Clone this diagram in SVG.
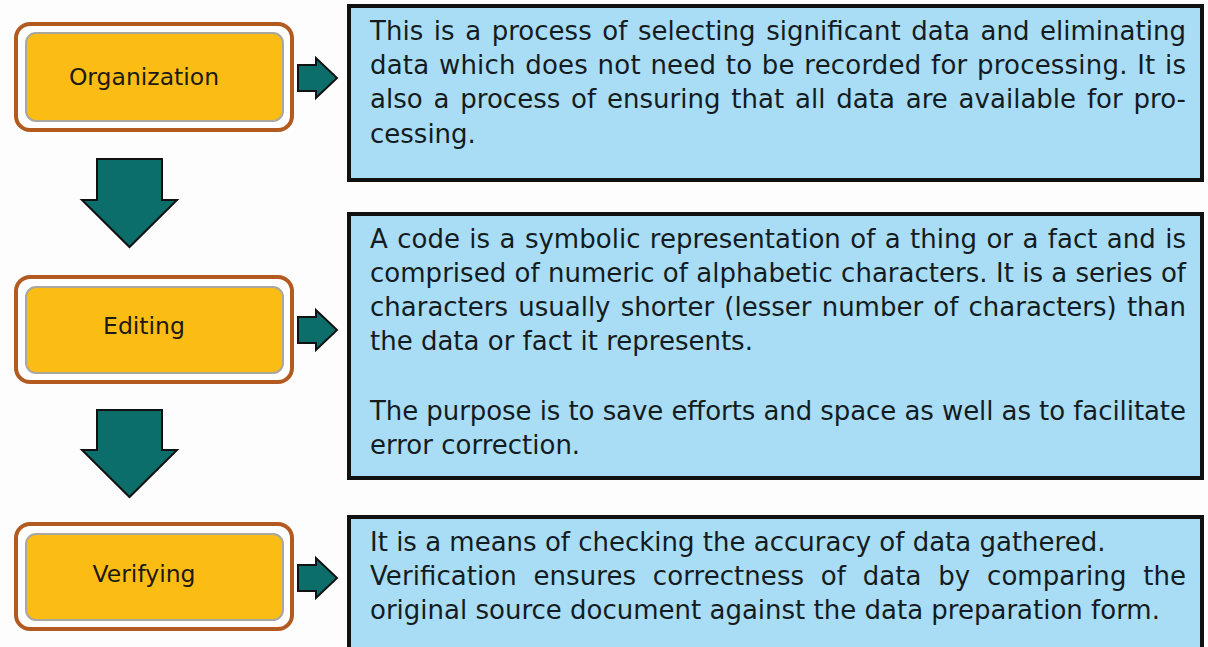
<svg xmlns="http://www.w3.org/2000/svg" width="1208" height="647" viewBox="0 0 1208 647">
  <style>
    .frame { fill: #ffffff; stroke: #b35a20; stroke-width: 4; }
    .pill { fill: #fbbd13; stroke: #a9a79f; stroke-width: 2; }
    .label { font-family: "DejaVu Sans", Verdana, sans-serif; font-size: 23.5px; fill: #1c1a14; text-anchor: middle; }
    .panel { fill: #a9dcf5; stroke: #111111; stroke-width: 4; }
    .body { font-family: "DejaVu Sans", Verdana, sans-serif; font-size: 26px; fill: #141c22; }
    .arrow { fill: #0b6e6a; stroke: #111111; stroke-width: 2; stroke-linejoin: miter; }
  </style>
  <rect width="1208" height="647" fill="#fdfdfd"/>

  <!-- step: Organization -->
  <g id="organization">
    <rect class="frame" x="16" y="24" width="276" height="106" rx="14"/>
    <rect class="pill" x="26" y="33" width="257" height="88" rx="10"/>
    <text class="label" x="144" y="85">Organization</text>
  </g>

  <!-- step: Editing -->
  <g id="editing">
    <rect class="frame" x="16" y="277" width="276" height="105" rx="14"/>
    <rect class="pill" x="26" y="287" width="257" height="86" rx="10"/>
    <text class="label" x="144" y="334">Editing</text>
  </g>

  <!-- step: Verifying -->
  <g id="verifying">
    <rect class="frame" x="16" y="524" width="276" height="105" rx="14"/>
    <rect class="pill" x="26" y="534" width="257" height="86" rx="10"/>
    <text class="label" x="144" y="582">Verifying</text>
  </g>

  <!-- description panels -->
  <g id="organization-note">
    <rect class="panel" x="349" y="6" width="853" height="174"/>
    <text class="body" x="370" y="40" word-spacing="2.3" textLength="816" lengthAdjust="spacing">This is a process of selecting significant data and eliminating</text>
    <text class="body" x="370" y="74" word-spacing="1.1" textLength="816" lengthAdjust="spacing">data which does not need to be recorded for processing. It is</text>
    <text class="body" x="370" y="108" word-spacing="2.5" textLength="816" lengthAdjust="spacing">also a process of ensuring that all data are available for pro-</text>
    <text class="body" x="370" y="143">cessing.</text>
  </g>

  <g id="editing-note">
    <rect class="panel" x="349" y="214" width="853" height="264"/>
    <text class="body" x="370" y="248" word-spacing="1.1" textLength="816" lengthAdjust="spacing">A code is a symbolic representation of a thing or a fact and is</text>
    <text class="body" x="370" y="282" textLength="816" lengthAdjust="spacing">comprised of numeric of alphabetic characters. It is a series of</text>
    <text class="body" x="370" y="316" word-spacing="1.9" textLength="816" lengthAdjust="spacing">characters usually shorter (lesser number of characters) than</text>
    <text class="body" x="370" y="350">the data or fact it represents.</text>
    <text class="body" x="370" y="420" textLength="816" lengthAdjust="spacing">The purpose is to save efforts and space as well as to facilitate</text>
    <text class="body" x="370" y="454">error correction.</text>
  </g>

  <g id="verifying-note">
    <rect class="panel" x="349" y="517" width="853" height="140"/>
    <text class="body" x="370" y="551">It is a means of checking the accuracy of data gathered.</text>
    <text class="body" x="370" y="585" word-spacing="8.4" textLength="816" lengthAdjust="spacing">Verification ensures correctness of data by comparing the</text>
    <text class="body" x="370" y="619">original source document against the data preparation form.</text>
  </g>

  <!-- connectors: block arrows -->
  <g id="connectors">
    <polygon class="arrow" points="97,159 162,159 162,200 177,200 129.5,247 82,200 97,200"/>
    <polygon class="arrow" points="97,410 162,410 162,450 177,450 129.5,497 82,450 97,450"/>
    <polygon class="arrow" points="298,65 316,65 316,58 337,78 316,98 316,91 298,91"/>
    <polygon class="arrow" points="298,317 316,317 316,310 337,330 316,350 316,343 298,343"/>
    <polygon class="arrow" points="298,565 316,565 316,558 337,578 316,598 316,591 298,591"/>
  </g>
</svg>
